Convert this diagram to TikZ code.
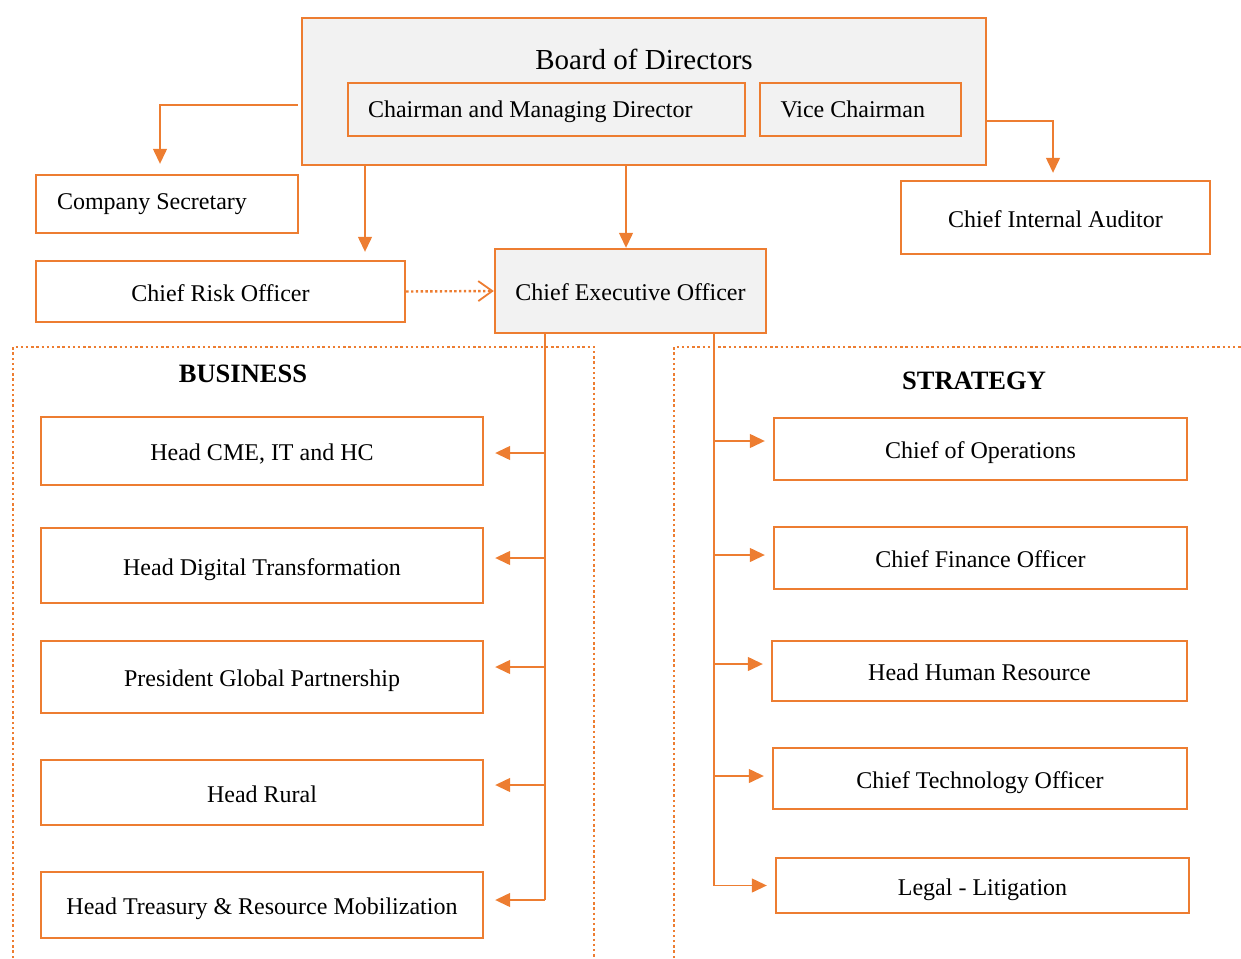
\documentclass[tikz,border=0pt]{standalone}
\usepackage{fontspec}
\setmainfont{Liberation Serif}
\usetikzlibrary{arrows.meta}
\definecolor{org}{HTML}{ED7D31}
\definecolor{lgray}{HTML}{F2F2F2}
\tikzset{
  box/.style={draw=org, line width=2.4pt, fill=white, inner sep=0pt, align=center, text height=19pt, text depth=0pt, font=\fontsize{24}{28}\selectfont},
  graybox/.style={box, fill=lgray},
  thinbox/.style={draw=org, line width=1.3pt, fill=lgray, inner sep=0pt, text height=18pt, text depth=3pt, font=\fontsize{24}{28}\selectfont},
  conn/.style={draw=org, line width=1.3pt},
  arr/.style={conn, -{Triangle[length=15pt,width=14pt]}},
  dotarr/.style={draw=org, line width=2.4pt, dash pattern=on 2.4pt off 2.4pt, -{Straight Barb[length=14pt,width=20pt,line width=1.8pt]}},
  region/.style={draw=org, line width=2.4pt, dash pattern=on 2.4pt off 2.8pt},
  head/.style={font=\fontsize{26.5}{30}\selectfont\bfseries}
}
\begin{document}
\begin{tikzpicture}[x=1pt,y=-1pt]
\useasboundingbox (0,0) rectangle (1241,958);
% regions
\draw[region] (13,958) -- (13,347) -- (594,347) -- (594,958);
\draw[region] (674,958) -- (674,347) -- (1241,347);
% top
\node[graybox, minimum width=684pt, minimum height=147pt] (board) at (644,91.5) {};
\node[font=\fontsize{29}{32}\selectfont] (boardt) at (644,59) {Board of Directors};
\node[thinbox, minimum width=397pt, minimum height=53pt, text width=357pt, align=flush left] (chair) at (546.5,109.5) {Chairman and Managing Director};
\node[thinbox, minimum width=201pt, minimum height=53pt, text width=160pt, align=flush left] (vice) at (860.5,109.5) {Vice Chairman};
\node[box, minimum width=262pt, minimum height=58pt, text width=220pt, align=flush left, text height=17pt, text depth=6pt] (cs) at (167,204) {Company Secretary};
\node[box, minimum width=369pt, minimum height=61pt] (cro) at (220.5,291.5) {Chief Risk Officer};
\node[graybox, minimum width=271pt, minimum height=84pt] (ceo) at (630.5,291) {Chief Executive Officer};
\node[box, minimum width=309pt, minimum height=73pt] (cia) at (1055.5,217.5) {Chief Internal Auditor};
% headings
\node[head] (bus) at (243,374) {BUSINESS};
\node[head] (str) at (974,381) {STRATEGY};
% business
\node[box, minimum width=442pt, minimum height=68pt] (b1) at (262,451) {Head CME, IT and HC};
\node[box, minimum width=442pt, minimum height=75pt] (b2) at (262,565.5) {Head Digital Transformation};
\node[box, minimum width=442pt, minimum height=72pt] (b3) at (262,677) {President Global Partnership};
\node[box, minimum width=442pt, minimum height=65pt] (b4) at (262,792.5) {Head Rural};
\node[box, minimum width=442pt, minimum height=66pt] (b5) at (262,905) {Head Treasury \& Resource Mobilization};
% strategy
\node[box, minimum width=413pt, minimum height=62pt] (s1) at (980.5,449) {Chief of Operations};
\node[box, minimum width=413pt, minimum height=62pt] (s2) at (980.5,558) {Chief Finance Officer};
\node[box, minimum width=415pt, minimum height=60pt] (s3) at (979.5,671) {Head Human Resource};
\node[box, minimum width=414pt, minimum height=61pt] (s4) at (980,778.5) {Chief Technology Officer};
\node[box, minimum width=413pt, minimum height=55pt] (s5) at (982.5,885.5) {Legal - Litigation};
% top connectors
\draw[arr, shorten >=10pt] ([yshift=-13.5pt,xshift=-3pt]board.west) -| ([xshift=-7pt]cs.north);
\draw[arr, shorten >=8pt] ([xshift=64.2pt]board.south west) -- ([xshift=144.5pt]cro.north);
\draw[arr] ([xshift=-18pt]board.south) -- ([xshift=-4.5pt]ceo.north);
\draw[arr, shorten >=7pt] ([yshift=-29.5pt]board.east) -| ([xshift=-2.5pt]cia.north);
\draw[dotarr] (cro.east) -- (ceo.west);
% business trunk (x = 545)
\draw[conn] ([xshift=-85.5pt]ceo.south) -- ([yshift=5pt,xshift=60.8pt]b5.east);
\draw[arr, shorten >=11pt] ([yshift=-2pt,xshift=60.8pt]b1.east) -- ([yshift=-2pt]b1.east);
\draw[arr, shorten >=11pt] ([yshift=7.5pt,xshift=60.8pt]b2.east) -- ([yshift=7.5pt]b2.east);
\draw[arr, shorten >=11pt] ([yshift=10pt,xshift=60.8pt]b3.east) -- ([yshift=10pt]b3.east);
\draw[arr, shorten >=11pt] ([yshift=7.5pt,xshift=60.8pt]b4.east) -- ([yshift=7.5pt]b4.east);
\draw[arr, shorten >=11pt] ([yshift=5pt,xshift=60.8pt]b5.east) -- ([yshift=5pt]b5.east);
% strategy trunk (x = 714)
\draw[conn] ([xshift=83.5pt]ceo.south) -- ([xshift=-60.8pt]s5.west);
\draw[arr, shorten >=8pt] ([yshift=8pt,xshift=-58.8pt]s1.west) -- ([yshift=8pt]s1.west);
\draw[arr, shorten >=8pt] ([yshift=3pt,xshift=-58.8pt]s2.west) -- ([yshift=3pt]s2.west);
\draw[arr, shorten >=8pt] ([yshift=7pt,xshift=-56.8pt]s3.west) -- ([yshift=7pt]s3.west);
\draw[arr, shorten >=8pt] ([yshift=2.5pt,xshift=-57.8pt]s4.west) -- ([yshift=2.5pt]s4.west);
\draw[arr, shorten >=8pt] ([xshift=-60.8pt]s5.west) -- (s5.west);
\end{tikzpicture}
\end{document}
